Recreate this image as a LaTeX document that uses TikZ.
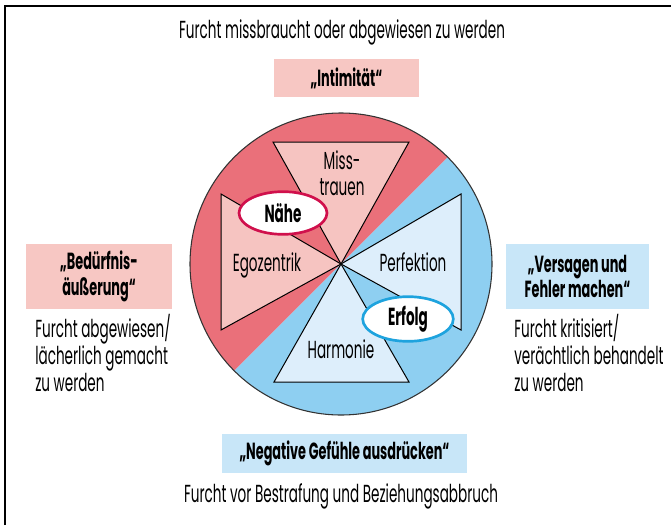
\documentclass[tikz,border=0pt]{standalone}
\usepackage{fontspec}
\setmainfont[FakeStretch=0.55]{Poppins}
\usetikzlibrary{shapes.geometric}
\definecolor{redseg}{HTML}{EA707A}
\definecolor{blueseg}{HTML}{8ECFF1}
\definecolor{redtri}{HTML}{F6C4C1}
\definecolor{bluetri}{HTML}{DDEEFB}
\definecolor{redbox}{HTML}{F7C7C3}
\definecolor{bluebox}{HTML}{C8E6F8}
\definecolor{naehe}{HTML}{D0104C}
\definecolor{erfolg}{HTML}{1EA3DE}
\begin{document}
\begin{tikzpicture}[x=0.75pt,y=-0.75pt,
  lbl/.style={inner sep=0pt,font=\fontsize{18.5}{19.5}\selectfont,align=center},
  basetxt/.style={inner sep=0pt,anchor=base,font=\fontsize{18.5}{19.5}\selectfont},
  sidetxt/.style={inner sep=0pt,font=\fontsize{18.5}{20}\selectfont,align=left,anchor=base west},
  boxed/.style={inner sep=0pt,font=\fontsize{17.5}{19}\selectfont\bfseries,align=center},
  boxred/.style={boxed,fill=redbox},
  boxblue/.style={boxed,fill=bluebox},
  tri/.style={draw=black,line width=0.75pt,line join=miter},
  oval/.style={ellipse,fill=white,line width=2pt,inner sep=0pt,font=\fontsize{18.5}{19}\selectfont\bfseries}]
\useasboundingbox (0,0) rectangle (671,525);
% frame
\draw[line width=1.5pt] (5,525) -- (5,6) -- (671,6);
% circle
\coordinate (c) at (341,264);
\fill[redseg] (c) -- ++(-45:151) arc[start angle=-45,end angle=-225,radius=151] -- cycle;
\fill[blueseg] (c) -- ++(-45:151) arc[start angle=-45,end angle=135,radius=151] -- cycle;
\draw[line width=0.8pt,black!80] (c) circle[radius=151];
% triangles
\draw[tri,fill=redtri] (c) -- (273,142) -- (409,142) -- cycle;
\draw[tri,fill=redtri] (c) -- (221,194) -- (221,330) -- cycle;
\draw[tri,fill=bluetri] (c) -- (461,194) -- (461,330) -- cycle;
\draw[tri,fill=bluetri] (c) -- (274,382) -- (409,382) -- cycle;
% triangle labels
\node[lbl] (miss) at (342,173) {Miss-\\trauen};
\node[basetxt] (ego) at (267,271) {Egozentrik};
\node[basetxt] (perf) at (413,271) {Perfektion};
\node[basetxt] (harm) at (341,358) {Harmonie};
% ovals
\node[oval,draw=naehe,minimum width=66pt,minimum height=32pt] (nae) at (283,213) {Nähe};
\node[oval,draw=erfolg,minimum width=68pt,minimum height=33.5pt] (erf) at (408,319) {Erfolg};
% top
\node[basetxt] (ftop) at (342,38) {Furcht missbraucht oder abgewiesen zu werden};
\node[boxred,minimum width=108.75pt,minimum height=29pt] (inti) at (346.5,78) {„Intimität“};
% left
\node[boxred,minimum width=109.5pt,minimum height=48.75pt] (bed) at (99,276.5) {„Bedürfnis-\\äußerung“};
\node[sidetxt] (fl1) at (35,337) {Furcht abgewiesen/};
\node[sidetxt] (fl2) at (35,364) {lächerlich gemacht};
\node[sidetxt] (fl3) at (35,391) {zu werden};
% right
\node[boxblue,minimum width=107.25pt,minimum height=48.75pt] (vers) at (577.5,276.5) {„Versagen und\\Fehler machen“};
\node[sidetxt] (fr1) at (514,337) {Furcht kritisiert/};
\node[sidetxt] (fr2) at (514,364) {verächtlich behandelt};
\node[sidetxt] (fr3) at (514,391) {zu werden};
% bottom
\node[boxblue,minimum width=183.75pt,minimum height=29pt] (neg) at (344.5,453.5) {„Negative Gefühle ausdrücken“};
\node[basetxt] (fbot) at (341,502) {Furcht vor Bestrafung und Beziehungsabbruch};
\end{tikzpicture}
\end{document}
